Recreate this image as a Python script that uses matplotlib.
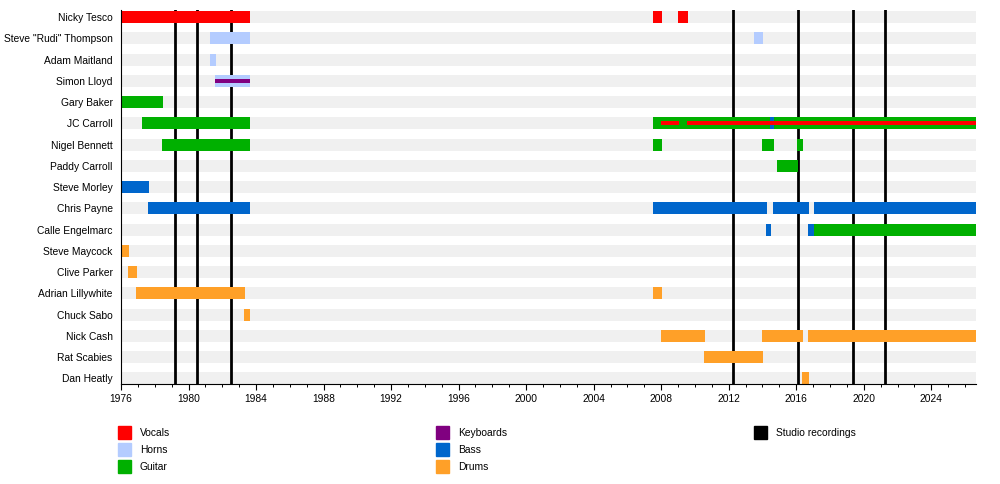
import matplotlib
matplotlib.use('Agg')
import matplotlib.pyplot as plt
from matplotlib.patches import Rectangle
from matplotlib.ticker import MultipleLocator

plt.rcParams['font.family'] = ['Liberation Sans', 'DejaVu Sans']
plt.rcParams['font.size'] = 7.4

members = ['Nicky Tesco', 'Steve "Rudi" Thompson', 'Adam Maitland', 'Simon Lloyd',
           'Gary Baker', 'JC Carroll', 'Nigel Bennett', 'Paddy Carroll',
           'Steve Morley', 'Chris Payne', 'Calle Engelmarc', 'Steve Maycock',
           'Clive Parker', 'Adrian Lillywhite', 'Chuck Sabo', 'Nick Cash',
           'Rat Scabies', 'Dan Heatly']

start_year = 1976
present = 2026.65

# (member index, from, to)
vocals = [(0, 1976.0, 1983.66), (0, 2007.53, 2008.07), (0, 2009.01, 2009.61)]
horns = [(1, 1981.29, 1983.66), (1, 2013.52, 2014.05), (2, 1981.29, 1981.65),
         (3, 1981.59, 1983.66)]
guitar = [(4, 1976.0, 1978.51), (5, 1977.26, 1983.66), (5, 2007.53, present),
          (6, 1978.45, 1983.66), (6, 2007.53, 2008.07), (6, 2013.99, 2014.70),
          (6, 2016.07, 2016.42), (7, 2014.88, 2016.12), (10, 2017.07, present)]
bass = [(5, 2014.46, 2014.70), (8, 1976.0, 1977.68), (9, 1977.62, 1983.66),
        (9, 2007.53, 2014.29), (9, 2014.64, 2016.78), (9, 2017.07, present),
        (10, 2014.23, 2014.53), (10, 2016.72, 2017.07)]
drums = [(11, 1976.0, 1976.49), (12, 1976.43, 1976.97), (13, 1976.91, 1983.36),
         (13, 2007.53, 2008.07), (14, 1983.30, 1983.66), (15, 2008.0, 2010.61),
         (15, 2013.99, 2016.42), (15, 2016.72, present), (16, 2010.55, 2014.05),
         (17, 2016.36, 2016.78)]
# thin lines drawn inside a main bar
keyboards = [(3, 1981.59, 1983.66)]
vocals_inner = [(5, 2008.0, 2009.06), (5, 2009.55, present)]

studio = [1979.18, 1980.48, 1982.49, 2012.23, 2016.08, 2019.34, 2021.24]

colors = {'Vocals': '#ff0000', 'Horns': '#b4ccff', 'Guitar': '#00b000',
          'Keyboards': '#800080', 'Bass': '#0066cc', 'Drums': '#ffa028',
          'Studio recordings': '#000000'}

fig = plt.figure(figsize=(10, 4.84), dpi=100)
ax = fig.add_axes([0.121, 100 / 484, 0.855, 374 / 484])

n = len(members)
bar_h = 0.565
thin_h = 0.19

# grey background bands
ax.barh(range(n), present - start_year, left=start_year, height=bar_h,
        color='#f0f0f0', zorder=1)

for x in studio:
    ax.axvline(x, color='black', linewidth=2.0, zorder=2)

def draw(spans, color, h):
    for i, a, b in spans:
        ax.barh(i, b - a, left=a, height=h, color=color, zorder=3)

draw(horns, colors['Horns'], bar_h)
draw(guitar, colors['Guitar'], bar_h)
draw(vocals, colors['Vocals'], bar_h)
draw(drums, colors['Drums'], bar_h)
draw(bass, colors['Bass'], bar_h)
draw(keyboards, colors['Keyboards'], thin_h)
draw(vocals_inner, colors['Vocals'], thin_h)

ax.set_xlim(start_year, present)
ax.set_ylim(17.27, -0.33)
ax.set_yticks(range(n))
ax.set_yticklabels(members)
ax.tick_params(axis='y', length=0, pad=6)
ax.xaxis.set_major_locator(MultipleLocator(4))
ax.xaxis.set_minor_locator(MultipleLocator(1))
ax.tick_params(axis='x', which='major', length=4, width=0.8, pad=3)
ax.tick_params(axis='x', which='minor', length=2.5, width=0.7)
for s in ['top', 'right']:
    ax.spines[s].set_visible(False)
for s in ['left', 'bottom']:
    ax.spines[s].set_linewidth(0.8)
    ax.spines[s].set_zorder(4)

# legend, laid out by hand in three columns
legend_cols = [['Vocals', 'Horns', 'Guitar'], ['Keyboards', 'Bass', 'Drums'],
               ['Studio recordings']]
col_x = [118, 436, 754]
for c, labels in enumerate(legend_cols):
    for r, lab in enumerate(labels):
        y_top = 426 + r * 17
        fig.add_artist(Rectangle((col_x[c] / 1000, 1 - (y_top + 13) / 484),
                                 13 / 1000, 13 / 484, color=colors[lab],
                                 transform=fig.transFigure))
        fig.text((col_x[c] + 22) / 1000, 1 - (y_top + 7) / 484, lab,
                 va='center', ha='left')

fig.savefig('out.png', dpi=100)
